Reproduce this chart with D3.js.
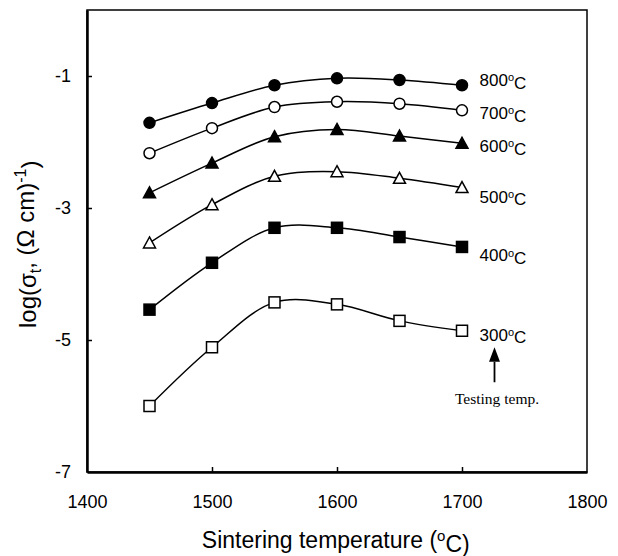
<!DOCTYPE html>
<html>
<head>
<meta charset="utf-8">
<script src="https://cdn.jsdelivr.net/npm/d3@7"></script>
<style>
	body { margin: 0; background: #fff; }
	text { font-family: Arial, 'Liberation Sans', sans-serif; fill: #000; }
</style>
</head>
<body>
<div id="chart"></div>
<script>
/***********************************************************************/
//Data
/***********************************************************************/
const sinterTemps = [1450, 1500, 1550, 1600, 1650, 1700]

const log800 = [-1.71, -1.41, -1.14, -1.035, -1.06, -1.14]
const log700 = [-2.17, -1.79, -1.47, -1.39, -1.42, -1.52]
const log600 = [-2.77, -2.32, -1.92, -1.81, -1.91, -2.02]
const log500 = [-3.53, -2.95, -2.52, -2.45, -2.55, -2.69]
const log400 = [-4.54, -3.83, -3.30, -3.30, -3.44, -3.59]
const log300 = [-6.00, -5.11, -4.43, -4.46, -4.71, -4.86]

const testTemps = ['800', '700', '600', '500', '400', '300']
const markerTypes = ['circleFill', 'circleOpen', 'triFill', 'triOpen', 'squareFill', 'squareOpen']
const labelValues = [-1.06, -1.56, -2.06, -2.83, -3.72, -4.92]

const xTicks = [1400, 1500, 1600, 1700, 1800]
const yTicks = [-1, -3, -5, -7]

// arrow under the 300 label: tip, head base, tail (log units)
const arrowPos = { x: 1726, tip: -5.11, head: -5.33, tail: -5.64 }

const seriesList = [log800, log700, log600, log500, log400, log300].map((vals, i) => ({
	temp: testTemps[i],
	marker: markerTypes[i],
	labelY: labelValues[i],
	points: vals.map((v, j) => ({ x: sinterTemps[j], y: v }))
}))

/***********************************************************************/
//Plot Area
/***********************************************************************/
const width = 618
const height = 556
const margin = { left: 87, right: 31, top: 10, bottom: 84 }
const plotW = width - margin.left - margin.right
const plotH = height - margin.top - margin.bottom

const svg = d3.select('#chart').append('svg')
	.attr('width', width)
	.attr('height', height)

const g = svg.append('g')
	.attr('transform', 'translate(' + margin.left + ',' + margin.top + ')')

const xScale = d3.scaleLinear().domain([1400, 1800]).range([0, plotW])
const yScale = d3.scaleLinear().domain([-7, 0]).range([plotH, 0])

/***********************************************************************/
//Frame + Axes
/***********************************************************************/
g.append('rect')
	.attr('x', 0).attr('y', 0)
	.attr('width', plotW).attr('height', plotH)
	.attr('fill', 'none')
	.attr('stroke', '#000')
	.attr('stroke-width', 1.5)

const xAxis = d3.axisBottom(xScale)
	.tickValues(xTicks)
	.tickFormat(d3.format('d'))
	.tickSize(-5)
	.tickSizeOuter(0)
	.tickPadding(23)

const yAxis = d3.axisLeft(yScale)
	.tickValues(yTicks)
	.tickFormat(d => d3.format('d')(d).replace('−', '-'))
	.tickSize(-5)
	.tickSizeOuter(0)
	.tickPadding(16)

const xAxisG = g.append('g')
	.attr('transform', 'translate(0,' + plotH + ')')
	.call(xAxis)

const yAxisG = g.append('g').call(yAxis)

;[xAxisG, yAxisG].forEach(ax => {
	ax.select('.domain').attr('stroke-width', 2.5)
	ax.selectAll('.tick line').attr('stroke-width', 1.5)
	ax.selectAll('.tick text')
		.style('font-size', '18px')
		.style('font-family', 'Arial, "Liberation Sans", sans-serif')
})
xAxisG.selectAll('.tick').filter(d => d === 1400 || d === 1800).select('line').remove()
yAxisG.selectAll('.tick').filter(d => d === -7).select('line').remove()

/***********************************************************************/
//Lines
/***********************************************************************/
const line = d3.line()
	.curve(d3.curveCatmullRom.alpha(0.5))
	.x(d => xScale(d.x))
	.y(d => yScale(d.y))

g.selectAll('.series-line')
	.data(seriesList)
	.join('path')
	.attr('class', 'series-line')
	.attr('fill', 'none')
	.attr('stroke', '#000')
	.attr('stroke-width', 1.5)
	.attr('d', d => line(d.points))

const drawMarker = (sel, type) => {
	const filled = type.endsWith('Fill')
	const fill = filled ? '#000' : '#fff'
	if (type.startsWith('circle')) {
		sel.append('circle').attr('r', 5.5)
			.attr('fill', fill).attr('stroke', '#000').attr('stroke-width', 1.5)
	} else if (type.startsWith('tri')) {
		sel.append('path').attr('d', 'M0,-6L6,5L-6,5Z')
			.attr('fill', fill).attr('stroke', '#000').attr('stroke-width', 1.5)
	} else {
		sel.append('rect').attr('x', -5.5).attr('y', -5.5).attr('width', 11).attr('height', 11)
			.attr('fill', fill).attr('stroke', '#000').attr('stroke-width', 1.5)
	}
}

seriesList.forEach(s => {
	g.selectAll(null)
		.data(s.points)
		.join('g')
		.attr('transform', d => 'translate(' + xScale(d.x) + ',' + yScale(d.y) + ')')
		.each(function() { drawMarker(d3.select(this), s.marker) })

	const lbl = g.append('text')
		.attr('x', xScale(1714))
		.attr('y', yScale(s.labelY))
		.attr('dy', '0.35em')
		.style('font-size', '17px')
	lbl.append('tspan').text(s.temp)
	lbl.append('tspan').attr('dy', '-0.45em').style('font-size', '11px').text('o')
	lbl.append('tspan').attr('dy', '0.45em').text('C')
})

/***********************************************************************/
//Annotation
/***********************************************************************/
const ax = xScale(arrowPos.x)
g.append('line')
	.attr('x1', ax).attr('x2', ax)
	.attr('y1', yScale(arrowPos.tail)).attr('y2', yScale(arrowPos.head))
	.attr('stroke', '#000').attr('stroke-width', 1.8)

g.append('path')
	.attr('d', 'M' + ax + ',' + yScale(arrowPos.tip)
		+ 'L' + (ax + 5.5) + ',' + yScale(arrowPos.head)
		+ 'L' + (ax - 5.5) + ',' + yScale(arrowPos.head) + 'Z')
	.attr('fill', '#000')

g.append('text')
	.attr('x', xScale(1728))
	.attr('y', yScale(-5.88))
	.attr('dy', '0.35em')
	.attr('text-anchor', 'middle')
	.style('font-family', '"Times New Roman", "Liberation Serif", serif')
	.style('font-size', '15.5px')
	.text('Testing temp.')

/***********************************************************************/
//Axis titles
/***********************************************************************/
const xTitle = svg.append('text')
	.attr('x', margin.left + xScale(1599))
	.attr('y', 548)
	.attr('text-anchor', 'middle')
	.style('font-size', '23px')
xTitle.append('tspan').text('Sintering temperature (')
xTitle.append('tspan').attr('dy', '-0.45em').style('font-size', '15px').text('o')
xTitle.append('tspan').attr('dy', '0.45em').text('C)')

const yTitle = svg.append('text')
	.attr('transform', 'translate(36,' + (margin.top + yScale(-3.55)) + ') rotate(-90)')
	.attr('text-anchor', 'middle')
	.style('font-size', '24px')
yTitle.append('tspan').text('log(σ')
yTitle.append('tspan').attr('dy', '0.3em').style('font-size', '16px').text('t')
yTitle.append('tspan').attr('dy', '-0.3em').text(', (Ω cm)')
yTitle.append('tspan').attr('dy', '-0.5em').style('font-size', '16px').text('-1')
yTitle.append('tspan').attr('dy', '0.5em').text(')')
</script>
</body>
</html>
